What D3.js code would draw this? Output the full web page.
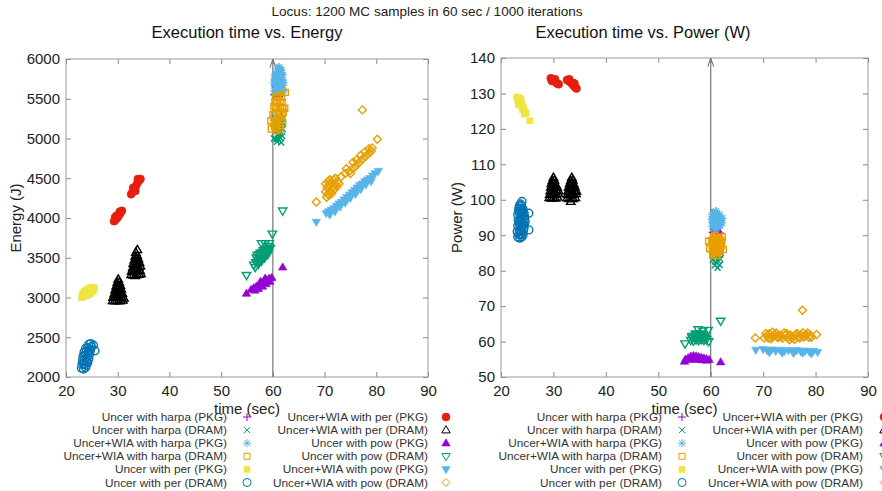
<!DOCTYPE html>
<html>
<head>
<meta charset="utf-8">
<script src="https://cdnjs.cloudflare.com/ajax/libs/d3/7.8.5/d3.min.js"></script>
<style>
  body { margin: 0; background: #fff; }
  svg { display: block; font-family: "Liberation Sans", Arial, sans-serif; }
</style>
</head>
<body>
<svg width="882" height="491"></svg>
<script>
// series labels and styles (legend order, also drawing order)
var seriesNames = [
    "Uncer with harpa (PKG)", "Uncer with harpa (DRAM)", "Uncer+WIA with harpa (PKG)",
    "Uncer+WIA with harpa (DRAM)", "Uncer with per (PKG)", "Uncer with per (DRAM)",
    "Uncer+WIA with per (PKG)", "Uncer+WIA with per (DRAM)", "Uncer with pow (PKG)",
    "Uncer with pow (DRAM)", "Uncer+WIA with pow (PKG)", "Uncer+WIA with pow (DRAM)"
];
var seriesColors = ["#9400d3", "#009e73", "#56b4e9", "#e69f00", "#f0e442", "#0072b2",
    "#e51e10", "#000000", "#9400d3", "#009e73", "#56b4e9", "#e69f00"];
var seriesShapes = ["plus", "cross", "star", "square", "square", "circle",
    "circle", "triUp", "triUp", "triDown", "triDown", "diamond"];
var seriesFilled = [false, false, false, false, true, false,
    true, false, true, false, true, false];

var xTicks = [20, 30, 40, 50, 60, 70, 80, 90];
var energyTicks = [2000, 2500, 3000, 3500, 4000, 4500, 5000, 5500, 6000];
var powerTicks = [50, 60, 70, 80, 90, 100, 110, 120, 130, 140];

// ---- Energy (J) vs time (sec), [time, energy]
var harpaPkgE = [[60.3,5550],[60.8,5580],[61.3,5560],[61.7,5600],[60.5,5650],[61.0,5680],[61.5,5650],[60.7,5520],[61.2,5530]];
var harpaDramE = [[60.2,5000],[60.6,4990],[61.0,5000],[61.4,5010],[61.8,5030],[60.4,5080],[60.9,5100],[61.4,5090],[61.9,5120],[60.5,5180],[61.0,5200],[61.5,5190],[60.3,5260],[61.2,5280],[61.7,5250],[60.8,4960],[61.6,4950],[61.1,5050],[60.7,5140],[61.6,5140],[61.9,5200],[60.6,5230],[61.3,5240]];
var wiaHarpaPkgE = [[60.3,5600],[60.8,5620],[61.3,5610],[61.8,5640],[60.5,5680],[61.0,5700],[61.5,5690],[60.3,5750],[60.8,5770],[61.3,5760],[61.8,5740],[60.6,5820],[61.1,5840],[61.6,5820],[60.9,5880],[61.4,5870],[60.2,5700],[61.9,5800],[60.5,5560],[61.0,5570],[61.5,5580],[62.0,5600],[62.1,5700],[60.4,5800],[61.7,5860],[61.2,5900],[60.7,5720],[61.2,5730],[61.7,5710]];
var wiaHarpaDramE = [[60.3,5150],[60.8,5130],[61.3,5160],[60.5,5220],[61.0,5240],[61.5,5230],[60.3,5300],[60.8,5320],[61.3,5310],[61.8,5290],[60.5,5380],[61.0,5400],[61.5,5390],[60.4,5460],[60.9,5480],[61.4,5470],[61.0,5540],[59.6,5220],[59.7,5120],[62.4,5580],[62.3,5380],[61.8,5450],[60.2,5200],[61.9,5200],[60.2,5400],[61.9,5380],[62.0,5330],[60.6,5100],[61.4,5120],[61.7,5520],[60.5,5520],[60.0,5300]];
var perPkgE = [[23.0,3000],[23.4,3010],[23.8,3020],[24.3,3030],[24.8,3050],[25.3,3080],[25.5,3120],[25.0,3130],[24.5,3120],[24.0,3100],[23.5,3080],[23.2,3050],[24.2,3070],[24.7,3090],[23.7,3050]];
var perDramE = [[23.0,2110],[23.4,2100],[23.8,2120],[23.1,2160],[23.5,2170],[23.9,2150],[24.2,2180],[23.2,2210],[23.6,2220],[24.0,2200],[24.4,2230],[23.3,2260],[23.7,2270],[24.1,2250],[24.5,2280],[23.5,2310],[23.9,2320],[24.3,2300],[24.7,2330],[23.8,2360],[24.2,2370],[24.6,2350],[24.9,2380],[24.4,2410],[24.8,2420],[25.6,2330],[25.3,2400]];
var wiaPerPkgE = [[29.3,3960],[29.6,3980],[29.9,4000],[30.2,4030],[30.5,4060],[30.8,4090],[30.4,4080],[29.8,4030],[29.5,4010],[32.6,4300],[32.9,4330],[33.2,4360],[33.5,4400],[33.8,4440],[34.1,4470],[34.4,4490],[33.0,4380],[33.9,4490],[33.4,4340]];
var wiaPerDramE = [[29.0,2960],[29.4,2955],[29.8,2960],[30.2,2955],[30.6,2960],[31.0,2965],[31.2,2990],[29.1,3000],[29.5,3000],[29.9,3005],[30.3,3000],[30.7,3010],[29.3,3045],[29.7,3050],[30.1,3050],[30.5,3055],[30.9,3050],[29.5,3095],[29.9,3100],[30.3,3095],[30.7,3105],[29.7,3140],[30.1,3145],[30.5,3150],[29.9,3185],[30.3,3190],[30.1,3230],
    [32.6,3285],[33.0,3280],[33.4,3275],[33.8,3285],[34.2,3290],[34.5,3300],[32.7,3330],[33.1,3325],[33.5,3335],[33.9,3330],[34.3,3340],[32.9,3375],[33.3,3380],[33.7,3385],[34.1,3380],[34.4,3395],[33.0,3425],[33.4,3430],[33.8,3435],[34.2,3440],[33.2,3470],[33.6,3480],[34.0,3485],[33.4,3520],[33.8,3525],[33.5,3565],[33.8,3600]];
var powPkgE = [[55.8,3100],[56.3,3120],[56.8,3140],[57.3,3160],[57.8,3180],[58.3,3200],[58.8,3220],[59.3,3240],[59.8,3250],[56.5,3090],[57.2,3110],[58.0,3140],[58.7,3170],[59.4,3200],[57.6,3200],[58.5,3240],[54.9,3050],[61.9,3380]];
var powDramE = [[56.3,3410],[56.7,3440],[57.1,3470],[57.5,3500],[57.9,3530],[58.3,3560],[58.7,3580],[59.1,3600],[59.5,3620],[56.6,3380],[57.2,3420],[57.8,3460],[58.4,3500],[59.0,3540],[57.0,3530],[57.6,3560],[58.2,3590],[56.8,3500],[57.4,3540],[58.0,3570],[58.6,3610],[59.2,3640],[57.3,3450],[57.9,3490],[58.5,3530],[59.1,3570],[54.9,3280],[57.8,3680],[58.5,3680],[59.3,3680],[59.9,3800],[61.9,4090]];
var wiaPowPkgE = [[70.3,4060],[70.8,4080],[71.3,4100],[71.8,4120],[72.3,4150],[72.8,4180],[73.3,4200],[73.8,4230],[74.3,4260],[74.8,4290],[75.3,4320],[75.8,4350],[76.3,4380],[76.8,4410],[77.3,4430],[77.8,4460],[78.3,4480],[78.8,4500],[79.3,4530],[79.8,4560],[80.4,4590],[71.0,4040],[72.0,4080],[73.0,4140],[74.0,4190],[75.0,4250],[76.0,4300],[77.0,4360],[78.0,4420],[79.0,4460],[68.4,3950]];
var wiaPowDramE = [[70.2,4330],[70.5,4380],[70.9,4420],[71.3,4450],[71.7,4480],[72.1,4500],[70.6,4300],[71.1,4340],[71.6,4380],[72.1,4420],[72.5,4460],[71.0,4480],[70.4,4260],[70.9,4290],[71.4,4310],[71.9,4360],[72.4,4400],[72.8,4430],[70.2,4430],[70.7,4460],[73.2,4520],[74.0,4560],[74.8,4590],[75.5,4620],[76.0,4650],[76.5,4690],[77.0,4720],[77.5,4750],[78.0,4780],[78.5,4810],[79.0,4840],[79.2,4880],[76.2,4730],[77.0,4790],[77.8,4830],[78.6,4870],[75.5,4700],[68.4,4200],[77.3,5360],[80.2,4990],[74.2,4620],[75.0,4560]];

// ---- Power (W) vs time (sec), [time, power]
var harpaPkgP = [[60.4,90.8],[60.9,91.2],[61.4,91.0],[61.8,90.6],[60.7,91.8],[61.3,92.0]];
var harpaDramP = [[60.4,83.0],[60.9,82.5],[61.4,82.8],[61.8,83.3],[60.6,84.2],[61.1,84.0],[61.6,84.4],[60.8,81.5],[61.3,80.8],[61.7,81.6],[60.3,85.5],[61.9,85.0],[60.5,88.0],[61.8,87.5],[60.7,96.5]];
var wiaHarpaPkgP = [[60.3,92.5],[60.8,92.3],[61.3,92.6],[61.8,92.8],[60.4,93.7],[60.9,93.9],[61.4,93.6],[61.9,94.0],[60.5,95.0],[61.0,95.2],[61.5,94.9],[60.7,96.0],[61.2,96.2],[61.0,91.8],[60.2,94.5],[60.6,93.0],[61.1,93.1],[61.6,93.2],[62.1,93.5],[62.2,94.8],[60.6,94.3],[61.1,94.4],[61.6,94.3],[60.3,95.8],[61.7,95.8],[61.0,96.8]];
var wiaHarpaDramP = [[60.4,85.2],[60.9,85.0],[61.4,85.3],[61.8,85.6],[60.3,86.5],[60.8,86.7],[61.3,86.4],[61.8,86.9],[60.4,87.8],[60.9,88.0],[61.4,87.7],[61.9,88.2],[60.5,89.2],[61.0,89.4],[61.5,89.1],[60.8,90.0],[60.6,85.8],[61.1,85.9],[61.6,86.0],[62.0,87.0],[60.6,87.2],[61.1,87.3],[61.6,87.2],[60.2,88.5],[62.1,88.3],[60.7,88.7],[61.2,88.6],[61.7,88.8],[60.4,84.4],[61.2,84.3],[59.6,88.3],[59.8,86.2],[62.4,86.0],[62.2,89.5]];
var perPkgP = [[23.0,129.0],[23.4,128.8],[23.8,128.5],[23.2,128.0],[23.6,127.6],[24.0,127.2],[23.5,126.8],[23.9,126.4],[24.3,126.0],[24.1,125.4],[24.5,125.0],[24.8,124.5],[24.4,124.2],[23.3,127.0],[25.5,122.3]];
var perDramP = [[23.2,89.5],[23.6,89.2],[24.0,89.6],[23.1,91.0],[23.5,91.2],[23.9,91.0],[24.3,91.4],[23.2,92.6],[23.6,92.8],[24.0,92.5],[24.4,93.0],[23.3,94.2],[23.7,94.4],[24.1,94.2],[24.5,94.5],[23.2,95.8],[23.6,96.0],[24.0,95.8],[24.4,96.2],[23.4,97.4],[23.8,97.6],[24.2,97.3],[23.7,98.8],[24.0,99.5],[23.4,90.2],[23.8,90.3],[24.2,90.1],[23.4,93.5],[23.8,93.6],[24.2,93.4],[23.4,96.8],[23.8,96.9],[24.2,96.7],[23.5,98.2],[23.9,98.3],[24.4,92.2],[24.5,95.2],[25.3,96.2],[25.3,91.5],[24.6,93.8]];
var wiaPerPkgP = [[29.5,134.3],[29.8,134.0],[30.1,133.6],[30.4,133.2],[30.7,132.8],[31.0,132.6],[29.7,133.5],[30.3,134.0],[32.6,133.8],[32.9,133.6],[33.2,133.2],[33.5,132.8],[33.8,132.3],[34.1,131.8],[34.4,131.4],[33.0,134.0],[33.7,133.0],[34.0,132.8]];
var wiaPerDramP = [[29.2,100.6],[29.6,100.4],[30.0,100.5],[30.4,100.4],[30.8,100.7],[29.3,101.5],[29.7,101.4],[30.1,101.6],[30.5,101.5],[30.9,101.8],[29.4,102.5],[29.8,102.6],[30.2,102.4],[30.6,102.7],[31.0,102.5],[29.5,103.5],[29.9,103.7],[30.3,103.4],[30.7,103.6],[29.6,104.5],[30.0,104.7],[30.4,104.4],[29.8,105.4],[30.2,105.5],[30.0,106.3],
    [32.6,100.5],[33.0,100.3],[33.4,100.4],[33.8,100.3],[34.2,100.6],[33.3,99.5],[32.7,101.5],[33.1,101.4],[33.5,101.6],[33.9,101.5],[34.3,101.7],[32.8,102.5],[33.2,102.7],[33.6,102.5],[34.0,102.6],[34.4,102.4],[32.9,103.5],[33.3,103.7],[33.7,103.4],[34.1,103.6],[33.1,104.5],[33.5,104.7],[33.9,104.4],[33.3,105.4],[33.7,105.5],[33.5,106.3]];
var powPkgP = [[55.2,55.0],[55.7,55.4],[56.2,55.8],[56.7,56.0],[57.2,55.9],[57.7,55.7],[58.2,55.5],[58.7,55.3],[59.2,55.1],[59.7,54.9],[56.0,54.9],[56.8,55.1],[57.6,54.9],[58.4,54.8],[59.2,54.7],[55.0,54.4],[61.9,54.2]];
var powDramP = [[56.2,60.4],[56.7,60.2],[57.2,60.5],[57.7,60.3],[58.2,60.6],[58.7,60.4],[59.2,60.6],[56.4,61.4],[56.9,61.6],[57.4,61.3],[57.9,61.7],[58.4,61.5],[58.9,61.4],[57.1,62.2],[58.0,62.2],[56.5,60.9],[57.0,61.0],[57.5,60.9],[58.0,61.1],[58.5,61.0],[59.0,60.9],[57.5,62.0],[58.5,62.0],[55.1,59.4],[57.6,63.4],[58.5,63.0],[59.5,63.2],[61.9,65.8],[59.6,60.0]];
var wiaPowPkgP = [[68.6,57.6],[70.0,57.8],[70.8,57.4],[71.6,57.7],[72.4,57.3],[73.2,57.6],[74.0,57.2],[74.8,57.5],[75.6,57.2],[76.4,57.5],[77.2,57.1],[78.0,57.4],[78.8,57.1],[79.6,57.3],[80.4,57.0],[71.2,56.9],[73.6,56.8],[75.8,56.7],[77.6,56.8],[79.2,56.6]];
var wiaPowDramP = [[70.2,61.0],[70.7,61.6],[71.2,62.2],[71.7,61.4],[72.2,62.0],[72.7,61.2],[73.2,61.8],[73.7,61.0],[74.2,61.7],[74.7,61.2],[75.2,61.8],[75.7,61.3],[76.2,62.0],[76.7,61.2],[77.2,61.9],[77.7,61.3],[78.2,62.0],[78.7,61.2],[79.0,61.8],[71.5,60.8],[76.0,60.6],[70.5,62.3],[71.0,61.0],[72.0,61.5],[72.5,62.4],[73.0,61.2],[74.5,62.3],[75.5,61.0],[76.5,62.3],[77.0,61.0],[78.0,61.5],[78.5,62.4],[79.2,61.2],[71.8,62.6],[73.5,61.5],[76.0,61.6],[77.6,62.5],[68.5,61.0],[77.5,68.8],[80.2,62.0],[74.0,62.4],[75.0,60.5]];

var energySeries = [harpaPkgE, harpaDramE, wiaHarpaPkgE, wiaHarpaDramE, perPkgE, perDramE,
    wiaPerPkgE, wiaPerDramE, powPkgE, powDramE, wiaPowPkgE, wiaPowDramE];
var powerSeries = [harpaPkgP, harpaDramP, wiaHarpaPkgP, wiaHarpaDramP, perPkgP, perDramP,
    wiaPerPkgP, wiaPerDramP, powPkgP, powDramP, wiaPowPkgP, wiaPowDramP];

var svg = d3.select("svg");

// arrow head for the 60 sec deadline line
svg.append("defs").append("marker")
    .attr("id", "arrow")
    .attr("viewBox", "0 0 10 10")
    .attr("refX", 9).attr("refY", 5)
    .attr("markerWidth", 7).attr("markerHeight", 7)
    .attr("orient", "auto")
    .append("path")
    .attr("d", "M0,1.5L10,5L0,8.5")
    .attr("fill", "none")
    .attr("stroke", "#777")
    .attr("stroke-width", 1.3);

function markerPath(shape, r) {
    var k = r * 0.75;
    switch (shape) {
        case "plus": return "M" + (-r) + ",0H" + r + "M0," + (-r) + "V" + r;
        case "cross": return "M" + (-k) + "," + (-k) + "L" + k + "," + k + "M" + (-k) + "," + k + "L" + k + "," + (-k);
        case "star": return "M" + (-r) + ",0H" + r + "M0," + (-r) + "V" + r +
            "M" + (-k) + "," + (-k) + "L" + k + "," + k + "M" + (-k) + "," + k + "L" + k + "," + (-k);
        case "square": return "M" + (-k) + "," + (-k) + "H" + k + "V" + k + "H" + (-k) + "Z";
        case "circle": return d3.symbol(d3.symbolCircle, Math.PI * r * r)();
        case "triUp": return "M0," + (-r * 1.1) + "L" + (r * 1.05) + "," + (r * 0.7) + "L" + (-r * 1.05) + "," + (r * 0.7) + "Z";
        case "triDown": return "M0," + (r * 1.1) + "L" + (r * 1.05) + "," + (-r * 0.7) + "L" + (-r * 1.05) + "," + (-r * 0.7) + "Z";
        case "diamond": return "M0," + (-r) + "L" + r + ",0L0," + r + "L" + (-r) + ",0Z";
    }
}

function styleMark(sel, i, sw) {
    sel.attr("d", markerPath(seriesShapes[i], 4))
        .attr("fill", seriesFilled[i] ? seriesColors[i] : "none")
        .attr("stroke", seriesColors[i])
        .attr("stroke-width", seriesFilled[i] ? 0.6 : sw);
}

function DrawPanel(opt) {
    var x = d3.scaleLinear().domain([20, 90]).range([opt.left, opt.right]);
    var y = d3.scaleLinear().domain(opt.domain).range([opt.bottom, opt.top]);

    var g = svg.append("g");

    // axes, ticks inward on all four sides
    var axes = [
        { ax: d3.axisBottom(x).tickValues(xTicks), t: "translate(0," + opt.bottom + ")", labels: true },
        { ax: d3.axisTop(x).tickValues(xTicks), t: "translate(0," + opt.top + ")", labels: false },
        { ax: d3.axisLeft(y).tickValues(opt.ticks), t: "translate(" + opt.left + ",0)", labels: true },
        { ax: d3.axisRight(y).tickValues(opt.ticks), t: "translate(" + opt.right + ",0)", labels: false }
    ];
    axes.forEach(function (a, k) {
        var ag = g.append("g").attr("transform", a.t)
            .call(a.ax.tickFormat(d3.format("d")).tickSizeInner(-5).tickSizeOuter(0).tickPadding(k < 2 ? 8 : 6));
        ag.select(".domain").remove();
        ag.selectAll(".tick line").attr("stroke", "#888");
        ag.selectAll(".tick text")
            .attr("fill", "#222")
            .attr("font-size", 15)
            .attr("font-family", "Liberation Sans, Arial, sans-serif")
            .style("display", a.labels ? null : "none");
    });

    g.append("rect")
        .attr("x", opt.left).attr("y", opt.top)
        .attr("width", opt.right - opt.left).attr("height", opt.bottom - opt.top)
        .attr("fill", "none").attr("stroke", "#999").attr("stroke-width", 1);

    // 60 sec line
    g.append("line")
        .attr("x1", x(60)).attr("x2", x(60))
        .attr("y1", opt.bottom).attr("y2", opt.top + 1)
        .attr("stroke", "#777").attr("stroke-width", 1.2)
        .attr("marker-end", "url(#arrow)");

    // points
    opt.series.forEach(function (data, i) {
        g.append("g").selectAll("path")
            .data(data).enter()
            .append("path")
            .attr("transform", function (d) {
                return "translate(" + x(d[0]) + "," + y(d[1]) + ")";
            })
            .call(styleMark, i, 1.4);
    });

    g.append("text")
        .text(opt.title)
        .attr("x", opt.titleX).attr("y", 38)
        .attr("text-anchor", "middle")
        .attr("font-size", 17)
        .attr("textLength", opt.titleLen).attr("lengthAdjust", "spacingAndGlyphs")
        .attr("fill", "#111");

    g.append("text")
        .text(opt.yLabel)
        .attr("transform", "translate(" + opt.yLabelX + "," + ((opt.top + opt.bottom) / 2) + ") rotate(-90)")
        .attr("text-anchor", "middle")
        .attr("font-size", 15)
        .attr("fill", "#222");

    g.append("text")
        .text("time (sec)")
        .attr("x", (opt.left + opt.right) / 2).attr("y", 414)
        .attr("text-anchor", "middle")
        .attr("font-size", 15)
        .attr("fill", "#222");

    // legend, two columns of six rows
    var rowY = 417, rowH = 13.1;
    seriesNames.forEach(function (name, i) {
        var col = Math.floor(i / 6), row = i % 6;
        var cy = rowY + row * rowH;
        g.append("text")
            .text(name)
            .attr("x", opt.legendText[col]).attr("y", cy + 4)
            .attr("text-anchor", "end")
            .attr("font-size", 11.8)
            .attr("fill", "#333");
        g.append("path")
            .attr("transform", "translate(" + opt.legendMark[col] + "," + cy + ")")
            .call(styleMark, i, 1);
    });
}

svg.append("text")
    .text("Locus: 1200 MC samples in 60 sec / 1000 iterations")
    .attr("x", 427).attr("y", 16)
    .attr("text-anchor", "middle")
    .attr("font-size", 13)
    .attr("textLength", 311).attr("lengthAdjust", "spacingAndGlyphs")
    .attr("fill", "#222");

DrawPanel({
    left: 66, right: 428, top: 59, bottom: 377,
    domain: [2000, 6000], ticks: energyTicks, series: energySeries,
    title: "Execution time vs. Energy", titleLen: 191, titleX: 247,
    yLabel: "Energy (J)", yLabelX: 21,
    legendText: [227, 428], legendMark: [247, 446]
});

DrawPanel({
    left: 501, right: 868, top: 58, bottom: 377,
    domain: [50, 140], ticks: powerTicks, series: powerSeries,
    title: "Execution time vs. Power (W)", titleLen: 215, titleX: 643,
    yLabel: "Power (W)", yLabelX: 462,
    legendText: [662, 863], legendMark: [682, 884]
});
</script>
</body>
</html>
